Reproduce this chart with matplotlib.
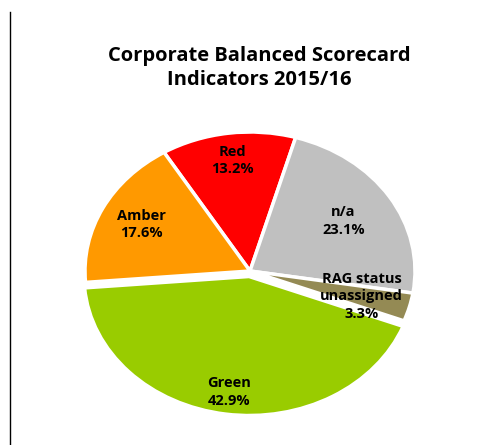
import matplotlib
matplotlib.use("Agg")
import matplotlib.pyplot as plt
import numpy as np

labels = ["Red", "n/a", "RAG status\nunassigned", "Green", "Amber"]
values = [13.2, 23.1, 3.3, 42.9, 17.6]
colors = ["#FF0000", "#C0C0C0", "#948A54", "#99CC00", "#FF9900"]
explode = [0.0, 0.0, 0.0, 0.04, 0.0]
label_radius = [0.80, 0.67, 0.70, 0.84, 0.74]
title = "Corporate Balanced Scorecard\nIndicators 2015/16"

FONT = ["Open Sans", "DejaVu Sans"]

fig = plt.figure(figsize=(4.84, 4.45), dpi=100)
# pie centre (250, 271) px, radii 165 x 139 px
W, H = 484, 445
cx, cy, rx, ry = 250, 271, 165, 139
lim = 1.2
aw = 2 * lim * rx / W
ah = 2 * lim * ry / H
ax = fig.add_axes([cx / W - aw / 2, 1 - cy / H - ah / 2, aw, ah])
wedges, _ = ax.pie(values, colors=colors, explode=explode, startangle=121.4,
                   counterclock=False, normalize=True,
                   wedgeprops=dict(edgecolor="white", linewidth=2.5))
ax.set_aspect("auto")
ax.set_xlim(-lim, lim)
ax.set_ylim(-lim, lim)
ax.axis("off")

for w, lab, v, r, ex in zip(wedges, labels, values, label_radius, explode):
    ang = np.deg2rad((w.theta1 + w.theta2) / 2)
    x = (r + ex) * np.cos(ang)
    y = (r + ex) * np.sin(ang)
    ax.text(x, y, f"{lab}\n{v:.1f}%", ha="center", va="center",
            fontsize=10.5, fontweight="bold", family=FONT, linespacing=1.3)

fig.text(0.535, 0.847, title, ha="center", va="center", fontsize=14.5,
         fontweight="bold", family=FONT, linespacing=1.32)

fig.add_artist(plt.Line2D([10 / W, 10 / W], [0, 1 - 12 / H],
                          transform=fig.transFigure, color="black", lw=1))

fig.savefig("out.png", dpi=100)
